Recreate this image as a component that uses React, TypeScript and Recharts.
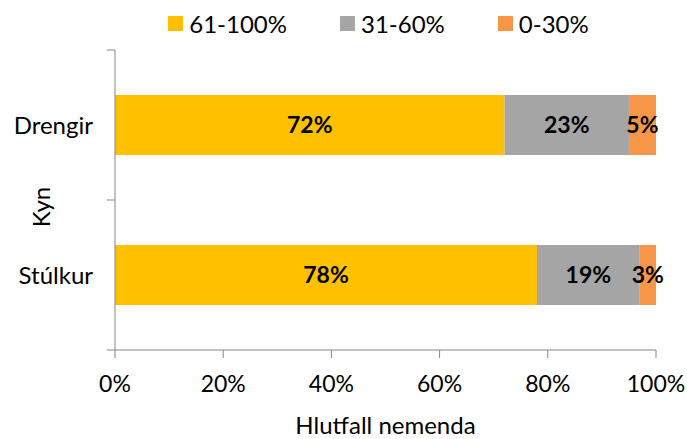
import React from "react";
import {
  Bar,
  BarChart,
  LabelList,
  Legend,
  XAxis,
  YAxis,
} from "recharts";

const categories = ["Drengir", "Stúlkur"];
const high = [72, 78];
const mid = [23, 19];
const low = [5, 3];
const seriesNames = ["61-100%", "31-60%", "0-30%"];
const seriesColors = ["#FFC000", "#A5A5A5", "#F79646"];
const xTicks = [0, 20, 40, 60, 80, 100];

const data = categories.map((kyn, i) => ({
  kyn,
  high: high[i],
  mid: mid[i],
  low: low[i],
}));

const FONT = "Lato, 'Open Sans', sans-serif";
const AXIS = "#868686";
const CAT_MARGIN = 22;
const TICK_LEN = 8;

function LegendRow() {
  return (
    <div
      style={{
        display: "flex",
        justifyContent: "center",
        alignItems: "center",
        height: 46,
        paddingLeft: 70,
        fontFamily: FONT,
        fontSize: 24,
        color: "#000",
      }}
    >
      {seriesNames.map((name, i) => (
        <div
          key={name}
          style={{ display: "flex", alignItems: "center", marginRight: i < 2 ? 53 : 0 }}
        >
          <span
            style={{
              width: 15,
              height: 15,
              background: seriesColors[i],
              display: "inline-block",
              marginRight: 6,
            }}
          />
          <span>{name}</span>
        </div>
      ))}
    </div>
  );
}

// category label plus Excel-style tick marks between categories
function CatTick(props: any) {
  const { x, y, payload, index, visibleTicksCount } = props;
  const axisX = x + CAT_MARGIN;
  const half = payload.offset || 0;
  const isLast = index === visibleTicksCount - 1;
  return (
    <g>
      <line x1={axisX - TICK_LEN} x2={axisX} y1={y - half} y2={y - half} stroke={AXIS} />
      {isLast && (
        <line x1={axisX - TICK_LEN} x2={axisX} y1={y + half} y2={y + half} stroke={AXIS} />
      )}
      <text x={x} y={y} dy="0.355em" textAnchor="end" fontSize={24} fontFamily={FONT} fill="#000">
        {payload.value}
      </text>
    </g>
  );
}

const pct = (v: any) => `${v}%`;

export default function App() {
  const keys = ["high", "mid", "low"];
  return (
    <div style={{ position: "absolute", left: 0, top: 0, width: 687, height: 439, background: "#fff" }}>
      <BarChart
        width={687}
        height={439}
        data={data}
        layout="vertical"
        barCategoryGap="30%"
        margin={{ top: 0, right: 31, bottom: 0, left: 0 }}
        style={{ fontFamily: FONT }}
      >
        <Legend
          verticalAlign="top"
          content={() => <LegendRow />}
          wrapperStyle={{ height: 50, width: 687, left: 0, top: 0 }}
        />
        <XAxis
          type="number"
          domain={[0, 100]}
          ticks={xTicks}
          tickFormatter={pct}
          height={89}
          tickSize={TICK_LEN}
          tickMargin={18}
          stroke={AXIS}
          tick={{ fill: "#000", fontSize: 23, fontFamily: FONT }}
          label={({ viewBox }: any) => (
            <text
              x={viewBox.x + viewBox.width / 2}
              y={viewBox.y + viewBox.height - 5}
              textAnchor="middle"
              fontSize={24}
              fontFamily={FONT}
              fill="#000"
            >
              Hlutfall nemenda
            </text>
          )}
        />
        <YAxis
          type="category"
          dataKey="kyn"
          width={115}
          stroke={AXIS}
          tickLine={false}
          tickSize={0}
          tickMargin={CAT_MARGIN}
          tick={<CatTick />}
          label={({ viewBox }: any) => (
            <text
              x={50}
              y={viewBox.y + viewBox.height / 2 + 7}
              transform={`rotate(-90, 50, ${viewBox.y + viewBox.height / 2 + 7})`}
              textAnchor="middle"
              fontSize={24}
              fontFamily={FONT}
              fill="#000"
            >
              Kyn
            </text>
          )}
        />
        {keys.map((k, i) => (
          <Bar
            key={k}
            dataKey={k}
            name={seriesNames[i]}
            stackId="a"
            fill={seriesColors[i]}
            isAnimationActive={false}
          >
            <LabelList
              dataKey={k}
              position="center"
              formatter={pct}
              fill="#000"
              fontSize={23}
              fontWeight="bold"
              fontFamily={FONT}
            />
          </Bar>
        ))}
      </BarChart>
    </div>
  );
}
